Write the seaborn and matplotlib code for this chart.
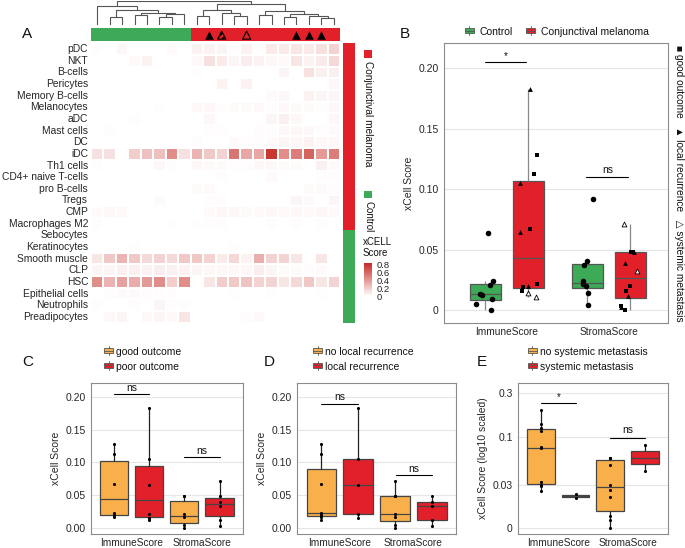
import numpy as np
import pandas as pd
import matplotlib
matplotlib.use("Agg")
import matplotlib.pyplot as plt
import seaborn as sns
from matplotlib.colors import LinearSegmentedColormap, ListedColormap
from matplotlib.patches import Rectangle, Patch
from matplotlib.lines import Line2D
from matplotlib.legend_handler import HandlerBase

# ---------------- data ----------------
cell_types = ["pDC", "NKT", "B-cells", "Pericytes", "Memory B-cells", "Melanocytes", "aDC",
              "Mast cells", "DC", "iDC", "Th1 cells", "CD4+ naive T-cells", "pro B-cells",
              "Tregs", "CMP", "Macrophages M2", "Sebocytes", "Keratinocytes", "Smooth muscle",
              "CLP", "HSC", "Epithelial cells", "Neutrophils", "Preadipocytes"]
row_group = ["Conjunctival melanoma"] * 16 + ["Control"] * 8
col_group = ["Control"] * 8 + ["Conjunctival melanoma"] * 12
# marks above melanoma columns: local recurrence / both / systemic metastasis
col_marks = ["", "", "", "", "", "", "", "",
             "", "local", "both", "", "systemic", "", "", "", "local", "local", "local", ""]

xcell = [
    [0.01, 0, 0.03, 0, 0, 0, 0.02, 0, 0.05, 0.05, 0.04, 0.01, 0.05, 0.01, 0.08, 0.08, 0.10, 0.08, 0.12, 0.18],
    [0, 0, 0, 0.02, 0.05, 0, 0, 0, 0.03, 0.12, 0.08, 0.04, 0.07, 0.05, 0.03, 0.02, 0.10, 0.05, 0.08, 0.15],
    [0, 0, 0, 0, 0, 0, 0, 0, 0.01, 0, 0, 0, 0, 0, 0, 0.04, 0, 0.12, 0.06, 0.06],
    [0, 0, 0, 0, 0, 0, 0, 0, 0, 0, 0.05, 0, 0.05, 0, 0, 0, 0, 0, 0, 0.03],
    [0, 0, 0, 0, 0, 0, 0, 0, 0, 0, 0, 0, 0, 0, 0.02, 0.03, 0, 0.05, 0.04, 0.04],
    [0, 0, 0, 0, 0, 0.01, 0, 0, 0.03, 0.03, 0.01, 0.02, 0.02, 0.03, 0.01, 0.03, 0.02, 0.02, 0.01, 0.03],
    [0, 0, 0, 0.01, 0, 0, 0, 0, 0, 0.03, 0, 0, 0, 0, 0.04, 0.06, 0.03, 0, 0, 0.03],
    [0, 0.01, 0, 0, 0, 0, 0, 0, 0, 0.01, 0.01, 0, 0, 0.01, 0.01, 0.03, 0.03, 0.03, 0.01, 0.02],
    [0, 0, 0, 0, 0, 0, 0, 0, 0.01, 0, 0, 0.02, 0.01, 0.01, 0.02, 0.04, 0.03, 0.05, 0.03, 0.03],
    [0.12, 0.12, 0, 0.2, 0.25, 0.25, 0.45, 0.12, 0.3, 0.22, 0.18, 0.55, 0.35, 0.35, 0.8, 0.45, 0.52, 0.62, 0.4, 0.52],
    [0.01, 0, 0, 0, 0, 0.03, 0.01, 0, 0.03, 0.02, 0.02, 0.01, 0.01, 0.03, 0.03, 0.02, 0.02, 0, 0.06, 0.02],
    [0, 0, 0, 0, 0, 0, 0, 0, 0, 0, 0.01, 0, 0, 0, 0.02, 0, 0, 0, 0.01, 0.01],
    [0, 0, 0, 0, 0, 0, 0, 0, 0.02, 0.02, 0, 0, 0, 0, 0, 0, 0, 0.02, 0.02, 0.01],
    [0, 0, 0, 0, 0, 0.02, 0, 0, 0, 0.01, 0.01, 0, 0, 0, 0, 0, 0.04, 0.02, 0, 0.04],
    [0.02, 0.03, 0.02, 0, 0, 0, 0, 0, 0, 0.02, 0.03, 0.03, 0.02, 0.02, 0.03, 0.02, 0.03, 0.02, 0.03, 0.02],
    [0.01, 0, 0, 0, 0, 0, 0.01, 0, 0.01, 0.01, 0.01, 0, 0, 0, 0.01, 0, 0.01, 0, 0.01, 0],
    [0] * 20,
    [0, 0, 0, 0.01, 0, 0, 0, 0, 0, 0, 0, 0.01, 0, 0, 0, 0, 0, 0, 0, 0],
    [0.1, 0.22, 0.3, 0.22, 0.15, 0.18, 0.15, 0.22, 0.22, 0.18, 0.08, 0.16, 0.05, 0.32, 0.18, 0.17, 0.1, 0, 0.1, 0],
    [0.04, 0.04, 0.06, 0.06, 0.05, 0.07, 0.06, 0.05, 0.04, 0.03, 0.03, 0.03, 0.03, 0.07, 0.04, 0.02, 0.02, 0.01, 0.02, 0],
    [0.45, 0.3, 0.38, 0.33, 0.4, 0.45, 0.2, 0.45, 0, 0.1, 0.2, 0.22, 0.24, 0.18, 0.17, 0.1, 0.15, 0.22, 0.1, 0.17],
    [0, 0.01, 0.02, 0.02, 0.01, 0.01, 0.01, 0, 0, 0, 0, 0.01, 0, 0, 0.01, 0, 0, 0, 0.01, 0],
    [0.01, 0, 0, 0.01, 0, 0.04, 0.01, 0.01, 0, 0, 0, 0, 0, 0, 0, 0, 0, 0, 0, 0],
    [0, 0.03, 0.04, 0, 0.03, 0.04, 0.03, 0.1, 0, 0, 0, 0, 0.01, 0.03, 0, 0, 0, 0, 0, 0],
]

# column dendrogram: [left, right, height]
tree = [[0, [[1, 2, 0.35], [[3, 4, 0.42], [[5, 6, 0.32], 7, 0.45], 0.52], 0.62], 0.82],
        [[[8, 9, 0.38], [10, [11, 12, 0.4], 0.5], 0.62],
         [[13, 14, 0.42], [[15, 16, 0.35], [17, [18, 19, 0.3], 0.38], 0.45], 0.58], 0.9], 1.0]

control_immune = [0.0636, 0.024, 0.0212, 0.0132, 0.013, 0.0096, 0.0052, 0.0]
control_stroma = [0.0917, 0.0408, 0.0372, 0.024, 0.022, 0.0201, 0.014, 0.0041]
# melanoma patients: 6 good outcome, 4 local recurrence, 1 local + systemic, 1 systemic
melanoma_status = ["good"] * 6 + ["local"] * 4 + ["both", "systemic"]
melanoma_immune = [0.128, 0.113, 0.067, 0.0217, 0.019, 0.0157,
                   0.183, 0.105, 0.0647, 0.0201, 0.014, 0.0112]
melanoma_stroma = [0.0484, 0.0484, 0.0201, 0.0162, 0.0036, 0.0,
                   0.0479, 0.0393, 0.0121, 0.0025, 0.0327, 0.0713]

W, H = 685, 548
GREEN, RED, ORANGE = "#3DAA58", "#E2202A", "#F9B04A"

sns.set_style("white")
plt.rcParams["font.family"] = ["Liberation Sans", "DejaVu Sans"]
plt.rcParams["text.color"] = "#111111"

fig = plt.figure(figsize=(W / 100, H / 100), dpi=100)


def px_axes(l, t, r, b):
    return fig.add_axes([l / W, 1 - b / H, (r - l) / W, (b - t) / H])


def ftext(x, y, s, **kw):
    fig.text(x / W, 1 - y / H, s, **kw)


class BoxKey(HandlerBase):
    def create_artists(self, legend, orig, xd, yd, w, h, fontsize, trans):
        fc = orig.get_facecolor()
        ec = "#555555"
        x0 = xd + 0.1 * w
        bw = 0.8 * w
        r = Rectangle((x0, yd + 0.15 * h), bw, 0.7 * h, facecolor=fc, edgecolor=ec, lw=0.6, transform=trans)
        m = Line2D([x0, x0 + bw], [yd + 0.5 * h] * 2, color=ec, lw=0.6, transform=trans)
        v1 = Line2D([x0 + bw / 2] * 2, [yd - 0.1 * h, yd + 0.15 * h], color=ec, lw=0.6, transform=trans)
        v2 = Line2D([x0 + bw / 2] * 2, [yd + 0.85 * h, yd + 1.1 * h], color=ec, lw=0.6, transform=trans)
        return [r, m, v1, v2]


# ---------------- panel A ----------------
df_hm = pd.DataFrame(xcell, index=cell_types)
cmap = LinearSegmentedColormap.from_list("xc", ["#FFFFFF", "#C62A24"])
ax_hm = px_axes(91, 43.3, 340, 322.7)
ax_cb = px_axes(363.5, 263, 372, 296)
sns.heatmap(df_hm, ax=ax_hm, cmap=cmap, vmin=0, vmax=0.85, linewidths=0.3, linecolor="white",
            xticklabels=False, yticklabels=True, cbar_ax=ax_cb)
ax_hm.tick_params(axis="y", length=0, labelsize=7.4, pad=2)
ax_hm.set_ylabel("")
ax_cb.set_yticks([0, 0.2, 0.4, 0.6, 0.8])
ax_cb.set_yticklabels(["0", "0.2", "0.4", "0.6", "0.8"])
ax_cb.tick_params(labelsize=6.8, length=2, pad=1, width=0.6, color="white")
for s in ax_cb.spines.values():
    s.set_visible(False)

# dendrogram
ax_dn = px_axes(91, 1, 340, 25)


def draw_tree(node):
    if isinstance(node, int):
        return node + 0.5, 0.0
    xl, hl = draw_tree(node[0])
    xr, hr = draw_tree(node[1])
    h = node[2]
    ax_dn.plot([xl, xl, xr, xr], [hl, h, h, hr], color="#555555", lw=0.8, solid_joinstyle="miter")
    return (xl + xr) / 2, h


draw_tree(tree)
ax_dn.set_xlim(0, len(col_group))
ax_dn.set_ylim(0, 1.02)
ax_dn.axis("off")

# column annotation
ax_ca = px_axes(91, 28.3, 340, 40.7)
grp_code = {"Control": 0, "Conjunctival melanoma": 1}
sns.heatmap(pd.DataFrame([[grp_code[g] for g in col_group]]), ax=ax_ca, cmap=ListedColormap([GREEN, RED]),
            vmin=0, vmax=1, cbar=False, xticklabels=False, yticklabels=False)
for i, mk in enumerate(col_marks):
    if mk == "local":
        ax_ca.scatter(i + 0.5, 0.55, marker="^", s=38, color="black", lw=0)
    elif mk == "systemic":
        ax_ca.scatter(i + 0.5, 0.55, marker="^", s=34, facecolors="none", edgecolors="black", lw=0.8)
    elif mk == "both":
        ax_ca.scatter(i + 0.5, 0.55, marker="^", s=34, facecolors="none", edgecolors="black", lw=0.8,
                      hatch="//////")

# row annotation
ax_ra = px_axes(342.7, 43.3, 355, 322.7)
sns.heatmap(pd.DataFrame([[grp_code[g]] for g in row_group]), ax=ax_ra, cmap=ListedColormap([GREEN, RED]),
            vmin=0, vmax=1, cbar=False, xticklabels=False, yticklabels=False)

# annotation legend
fig.patches.append(Rectangle((364 / W, 1 - 57.5 / H), 7.5 / W, 7 / H, transform=fig.transFigure,
                             facecolor=RED, edgecolor="none"))
ftext(368, 61, "Conjunctival melanoma", rotation=270, ha="center", va="top", fontsize=7.3)
fig.patches.append(Rectangle((364 / W, 1 - 198 / H), 7.5 / W, 7 / H, transform=fig.transFigure,
                             facecolor=GREEN, edgecolor="none"))
ftext(368, 201, "Control", rotation=270, ha="center", va="top", fontsize=7)
ftext(363, 258, "xCELL\nScore", ha="left", va="bottom", fontsize=7, linespacing=1.1)

ftext(22, 38, "A", fontsize=11)


# ---------------- box panels ----------------
def style_axes(ax):
    ax.set_facecolor("white")
    for s in ax.spines.values():
        s.set_visible(True)
        s.set_color("#8C8C8C")
        s.set_linewidth(0.8)
    ax.yaxis.grid(True, color="#E6E6E6", lw=0.8)
    ax.xaxis.grid(False)
    ax.set_axisbelow(True)
    ax.tick_params(axis="both", length=2.5, width=0.6, color="#333333", labelsize=7.5, pad=1.5)
    ax.tick_params(axis="x", length=2, pad=1, labelsize=7.3)
    ax.set_xlabel("")


def sig_bar(ax, x1, x2, y, label, dy, fs=7.5):
    ax.plot([x1, x2], [y, y], color="black", lw=0.8)
    ax.text((x1 + x2) / 2, y + dy, label, ha="center", va="bottom", fontsize=fs)


order = ["ImmuneScore", "StromaScore"]

# panel B
rows = []
for v in control_immune:
    rows.append(("ImmuneScore", "Control", v, "control"))
for v in control_stroma:
    rows.append(("StromaScore", "Control", v, "control"))
for v, st in zip(melanoma_immune, melanoma_status):
    rows.append(("ImmuneScore", "Conjunctival melanoma", v, st))
for v, st in zip(melanoma_stroma, melanoma_status):
    rows.append(("StromaScore", "Conjunctival melanoma", v, st))
df_b = pd.DataFrame(rows, columns=["score", "group", "value", "status"])

ax_b = px_axes(444.3, 43.3, 668.3, 322.7)
hue_b = ["Control", "Conjunctival melanoma"]
sns.boxplot(data=df_b, x="score", y="value", hue="group", order=order, hue_order=hue_b,
            palette=[GREEN, RED], saturation=1, width=0.84, gap=0.28, showfliers=False, showcaps=False,
            linecolor="#555555", linewidth=0.9, whiskerprops={"color": "#888888"},
            ax=ax_b, legend=False)
rng = np.random.default_rng(7)
df_b["x"] = (df_b["score"].map({"ImmuneScore": 0, "StromaScore": 1})
             + df_b["group"].map({"Control": -0.21, "Conjunctival melanoma": 0.21})
             + rng.uniform(-0.09, 0.09, len(df_b)))
shape = {"control": ("o", "black"), "good": ("s", "black"), "local": ("^", "black"),
         "both": ("^", "white"), "systemic": ("^", "white")}
for st, (mk, fc) in shape.items():
    sub = df_b[df_b["status"] == st]
    sns.scatterplot(data=sub, x="x", y="value", marker=mk, color=fc, edgecolor="black",
                    linewidth=0.6 if fc == "white" else 0, s=16 if st == "control" else 12,
                    ax=ax_b, legend=False, zorder=5)
style_axes(ax_b)
ax_b.set_xlim(-0.61, 1.58)
ax_b.set_ylim(-0.0102, 0.2206)
ax_b.set_yticks([0, 0.05, 0.10, 0.15, 0.20])
ax_b.set_yticklabels(["0", "0.05", "0.10", "0.15", "0.20"])
ax_b.set_xticks([0, 1])
ax_b.set_xticklabels(order)
ax_b.set_ylabel("xCell Score", fontsize=7.5, labelpad=3)
ax_b.set_xlabel("")
sig_bar(ax_b, -0.21, 0.19, 0.205, "*", 0.001, fs=7)
sig_bar(ax_b, 1 - 0.22, 1.19, 0.11, "ns", 0.002)
leg_b = fig.legend(handles=[Patch(facecolor=GREEN, label="Control"),
                            Patch(facecolor=RED, label="Conjunctival melanoma")],
                   handler_map={Patch: BoxKey()}, loc="center", ncol=2,
                   bbox_to_anchor=(556 / W, 1 - 32 / H), frameon=False, fontsize=7.5,
                   handlelength=1.1, handleheight=0.8, handletextpad=0.4, columnspacing=1.2)
ftext(679, 183, "\u25A0 good outcome   \u25B2 local recurrence   \u25B3 systemic metastasis",
      rotation=270, ha="center", va="center", fontsize=7.3)
ftext(400, 38, "B", fontsize=11)


# panels C, D, E
def sub_df(pos_label, neg_label, pos_status):
    r = []
    for sc, vals in (("ImmuneScore", melanoma_immune), ("StromaScore", melanoma_stroma)):
        for v, st in zip(vals, melanoma_status):
            r.append((sc, pos_label if st in pos_status else neg_label, v))
    return pd.DataFrame(r, columns=["score", "group", "value"])


panels = [
    ("C", (91, 243), "good outcome", "poor outcome", ["good"], 22, False),
    ("D", (297.3, 456.3), "no local recurrence", "local recurrence", ["local", "both"], 264, False),
    ("E", (518.3, 668), "no systemic metastasis", "systemic metastasis", ["both", "systemic"], 477, True),
]
for letter, (l, r), lab_a, lab_b, pos, lx, logy in panels:
    if letter == "C":
        d = sub_df(lab_a, lab_b, pos)
    else:
        d = sub_df(lab_b, lab_a, pos)
    hue_o = [lab_a, lab_b]
    if logy:
        d["value"] = d["value"] + 0.01
    ax = px_axes(l, 383.3, r, 533.5)
    sns.boxplot(data=d, x="score", y="value", hue="group", order=order, hue_order=hue_o,
                palette=[ORANGE, RED], saturation=1, width=1.0, gap=0.2, showfliers=False, showcaps=False,
                linecolor="#444444", linewidth=0.9, whiskerprops={"color": "#222222"},
                log_scale=logy, ax=ax, legend=False)
    d["x"] = d["score"].map({"ImmuneScore": 0, "StromaScore": 1}) + d["group"].map({hue_o[0]: -0.25, hue_o[1]: 0.25})
    sns.scatterplot(data=d, x="x", y="value", color="black", s=5, linewidth=0, ax=ax, legend=False, zorder=5)
    style_axes(ax)
    ax.set_xlim(-0.577, 1.583)
    ax.set_xticks([0, 1])
    ax.set_xticklabels(order)
    if logy:
        ax.set_ylim(0.0088, 0.382)
        ax.set_yticks([0.01, 0.03, 0.1, 0.3])
        ax.set_yticklabels(["0", "0.03", "0.1", "0.3"])
        ax.minorticks_off()
        ax.set_ylabel("xCell Score (log10 scaled)", fontsize=7.5, labelpad=3)
        sig_bar(ax, -0.25, 0.25, 0.231, "*", 0.01, fs=7)
        sig_bar(ax, 0.75, 1.25, 0.0975, "ns", 0.006)
    else:
        ax.set_ylim(-0.0092, 0.2213)
        ax.set_yticks([0, 0.05, 0.10, 0.15, 0.20])
        ax.set_yticklabels(["0.00", "0.05", "0.10", "0.15", "0.20"])
        ax.set_ylabel("xCell Score", fontsize=7.5, labelpad=3)
        if letter == "C":
            sig_bar(ax, -0.25, 0.25, 0.205, "ns", 0.002)
            sig_bar(ax, 0.745, 1.25, 0.1076, "ns", 0.002)
        else:
            sig_bar(ax, -0.25, 0.25, 0.19, "ns", 0.002)
            sig_bar(ax, 0.77, 1.25, 0.0805, "ns", 0.002)
    lx0 = {"C": 103, "D": 312, "E": 526.7}[letter]
    fig.legend(handles=[Patch(facecolor=ORANGE, label=lab_a), Patch(facecolor=RED, label=lab_b)],
               handler_map={Patch: BoxKey()}, loc="upper left",
               bbox_to_anchor=(lx0 / W, 1 - 347 / H), frameon=False, fontsize=7.5,
               handlelength=1.1, handleheight=0.8, handletextpad=0.15, labelspacing=0.45,
               borderpad=0, borderaxespad=0)
    ftext(lx, 366, letter, fontsize=11)

fig.savefig("out.png", dpi=100)
